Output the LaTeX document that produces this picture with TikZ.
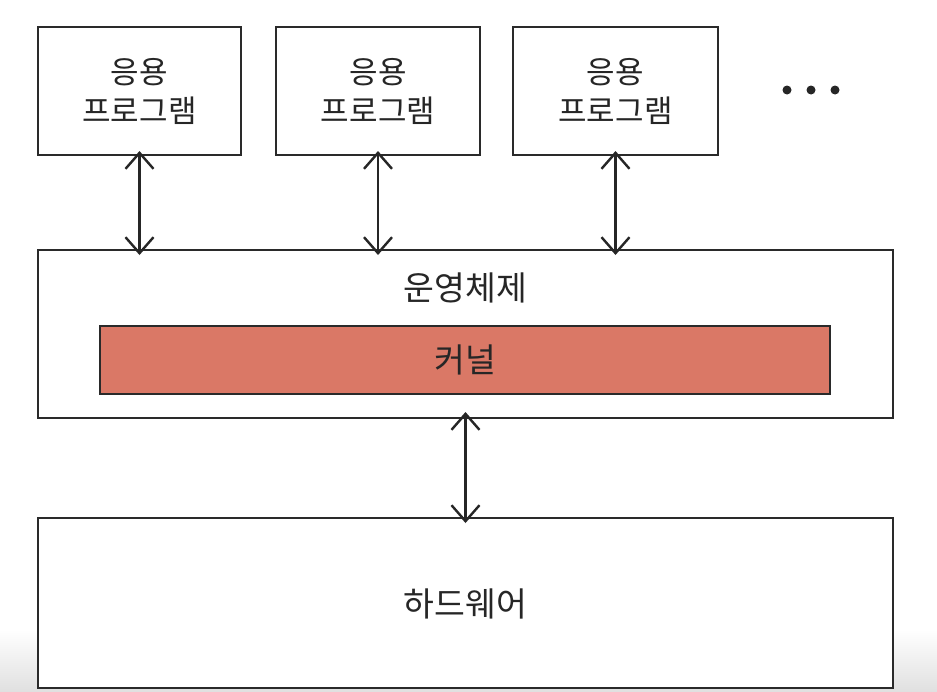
\documentclass[tikz,border=0pt]{standalone}
\usepackage{fontspec}
\newfontfamily\kr{Noto Sans CJK KR}
\usetikzlibrary{arrows.meta}
\definecolor{kern}{HTML}{DA7866}
\definecolor{edge}{HTML}{2A2A2A}
\begin{document}
\begin{tikzpicture}[x=1pt,y=-1pt,
  box/.style={draw=edge,line width=2.8pt,fill=white,inner sep=0pt},
  lbl/.style={font=\kr\fontsize{31}{39}\selectfont,align=center,text=black!85},
  big/.style={font=\kr\fontsize{33.5}{40}\selectfont},
  link/.style={draw=black!85,line width=2.4pt,{Straight Barb[length=16pt,width=28pt]}-{Straight Barb[length=16pt,width=28pt]}}]
\useasboundingbox (0,0) rectangle (937,691);
\fill[white] (0,0) rectangle (937,691);
\shade[top color=white,bottom color=black!12] (0,630) rectangle (937,691);
% app boxes
\draw[box] (38,27) rectangle (241,155);
\draw[box] (276,27) rectangle (480,155);
\draw[box] (513,27) rectangle (718,155);
\coordinate (a1b) at (139.5,155);
\coordinate (a2b) at (378,155);
\coordinate (a3b) at (615.5,155);
\node[lbl] (a1) at (139.5,91) {응용\\프로그램};
\node[lbl] (a2) at (378,91) {응용\\프로그램};
\node[lbl] (a3) at (615.5,91) {응용\\프로그램};
% dots
\fill[black!85] (787,90) circle (4.5) (811,90) circle (4.5) (835,90) circle (4.5);
\node (dots) at (811,90) {};
% OS
\draw[box] (38,250) rectangle (893,418);
\node[lbl,big] (os) at (465.5,288) {운영체제};
\draw[box,fill=kern] (100,326) rectangle (830,394);
\node[lbl,big] (k) at (465,360) {커널};
% hardware
\draw[box] (38,518) rectangle (893,688);
\node[lbl,big] (hw) at (465.5,604) {하드웨어};
% coordinates for connectors
\coordinate (o1) at (139.5,250);
\coordinate (o2) at (378,250);
\coordinate (o3) at (615.5,250);
\coordinate (ob) at (465.5,418);
\coordinate (ht) at (465.5,518);
\path[link] ([yshift=4]a1b) -- ([yshift=-5]o1);
\path[link] ([yshift=4]a2b) -- ([yshift=-5]o2);
\path[link] ([yshift=4]a3b) -- ([yshift=-5]o3);
\path[link] ([yshift=6]ob) -- ([yshift=-5]ht);
\end{tikzpicture}
\end{document}
